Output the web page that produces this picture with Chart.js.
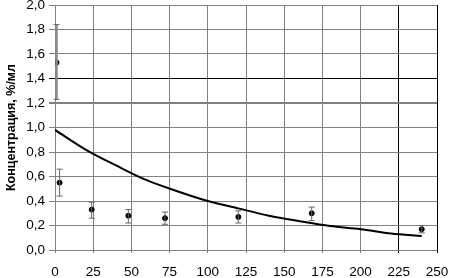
<!DOCTYPE html>
<html>
<head>
<meta charset="utf-8">
<script src="https://cdn.jsdelivr.net/npm/chart.js@4"></script>
<style>
  html, body { margin: 0; padding: 0; background: #fff; }
  #wrap { width: 449px; height: 278px; }
</style>
</head>
<body>
<div id="wrap"><canvas id="chart" width="449" height="278"></canvas></div>
<script>
// Измеренные точки
const timePoints = [1, 3, 24, 48, 72, 120, 168, 240];
const concValues = [1.53, 0.55, 0.33, 0.28, 0.26, 0.27, 0.30, 0.17];
const errLow = [1.23, 0.44, 0.26, 0.22, 0.21, 0.22, 0.24, 0.14];
const errHigh = [1.84, 0.66, 0.39, 0.33, 0.31, 0.32, 0.35, 0.20];

// Линия тренда
const trendX = [0, 20, 40, 60, 80, 100, 120, 140, 160, 180, 200, 220, 240];
const trendY = [0.98, 0.82, 0.69, 0.57, 0.48, 0.40, 0.34, 0.28, 0.235, 0.195, 0.17, 0.135, 0.115];

const xTicks = [0, 25, 50, 75, 100, 125, 150, 175, 200, 225, 250];
const yTicks = [0, 0.2, 0.4, 0.6, 0.8, 1.0, 1.2, 1.4, 1.6, 1.8, 2.0];

const errorBars = {
  id: 'errorBars',
  afterDatasetsDraw(chart) {
    const { ctx, scales: { x, y } } = chart;
    ctx.save();
    timePoints.forEach((t, i) => {
      const px = x.getPixelForValue(t);
      const top = y.getPixelForValue(errHigh[i]);
      const bot = y.getPixelForValue(errLow[i]);
      ctx.strokeStyle = i === 0 ? '#8a8a8a' : '#666';
      ctx.lineWidth = i === 0 ? 2.5 : 1;
      ctx.beginPath();
      ctx.moveTo(px, top);
      ctx.lineTo(px, bot);
      ctx.stroke();
      ctx.lineWidth = 1;
      ctx.strokeStyle = '#666';
      ctx.beginPath();
      ctx.moveTo(px - 3, top); ctx.lineTo(px + 3, top);
      ctx.moveTo(px - 3, bot); ctx.lineTo(px + 3, bot);
      ctx.stroke();
    });
    ctx.restore();
  }
};

new Chart(document.getElementById('chart'), {
  type: 'scatter',
  data: {
    datasets: [{
      type: 'line',
      data: trendX.map((v, i) => ({ x: v, y: trendY[i] })),
      borderColor: '#000',
      borderWidth: 2,
      pointRadius: 0,
      cubicInterpolationMode: 'monotone',
      fill: false,
    }, {
      data: timePoints.map((v, i) => ({ x: v, y: concValues[i] })),
      backgroundColor: '#000',
      borderColor: '#000',
      pointRadius: 2.5,
    }],
  },
  options: {
    responsive: false,
    animation: false,
    layout: { padding: { top: 5, right: 12, left: 0, bottom: 0 } },
    plugins: { legend: { display: false }, tooltip: { enabled: false } },
    scales: {
      x: {
        min: 0, max: 250,
        afterBuildTicks: s => { s.ticks = xTicks.map(v => ({ value: v })); },
        afterFit: s => { s.height = 28; s.paddingLeft = 0; s.paddingRight = 0; },
        grid: {
          color: c => (c.tick && (c.tick.value === 225 || c.tick.value === 250)) ? '#000' : '#808080',
          tickLength: 3,
        },
        border: { display: false },
        ticks: {
          color: '#000',
          font: { family: 'Liberation Sans', size: 13.5 },
          maxRotation: 0,
          padding: 11,
        },
      },
      y: {
        min: 0, max: 2,
        afterBuildTicks: s => { s.ticks = yTicks.map(v => ({ value: v })); },
        afterFit: s => { s.width = 55; s.paddingTop = 0; s.paddingBottom = 0; },
        grid: {
          color: c => {
            if (!c.tick) return '#808080';
            if (Math.abs(c.tick.value - 1.4) < 1e-6) return '#000';
            return '#808080';
          },
          lineWidth: c => (c.tick && Math.abs(c.tick.value - 1.2) < 1e-6) ? 2 : 1,
          tickLength: 6,
        },
        border: { display: false },
        title: {
          display: true,
          text: 'Концентрация, %/мл',
          color: '#000',
          font: { family: 'Liberation Sans', size: 12.5, weight: 'bold' },
          padding: { top: 4, bottom: 0 },
        },
        ticks: {
          color: '#000',
          font: { family: 'Liberation Sans', size: 13.5 },
          padding: 4,
          callback: v => v.toFixed(1).replace('.', ','),
        },
      },
    },
  },
  plugins: [errorBars],
});
</script>
</body>
</html>
